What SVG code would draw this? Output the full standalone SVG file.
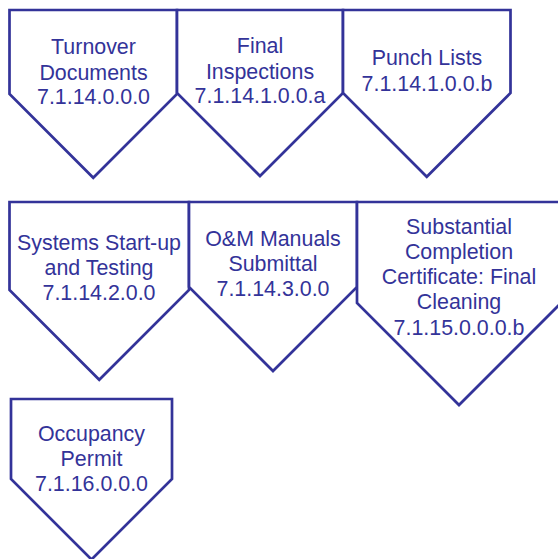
<svg xmlns="http://www.w3.org/2000/svg" width="558" height="559" viewBox="0 0 558 559">
<style>
.n{fill:#fff;stroke:#333399;stroke-width:2.7;stroke-linejoin:miter}
.t{font-family:"Liberation Sans",Arial,sans-serif;font-size:21.4px;fill:#333399;text-anchor:middle}
</style>
<rect width="558" height="559" fill="#fff"/>
<g id="connectors"></g>
<g id="n1"><polygon class="n" points="9.5,10 177,10 177,94 93.25,177.75 9.5,94"/>
<text class="t" x="93.5" y="54">Turnover</text><text class="t" x="93.5" y="79.5">Documents</text><text class="t" x="93.5" y="104">7.1.14.0.0.0</text></g>
<g id="n2"><polygon class="n" points="177,10 343,10 343,93 260,176 177,93"/>
<text class="t" x="260" y="53">Final</text><text class="t" x="260" y="78.5">Inspections</text><text class="t" x="260" y="103">7.1.14.1.0.0.a</text></g>
<g id="n3"><polygon class="n" points="343,10 510.5,10 510.5,93 426.75,176.75 343,93"/>
<text class="t" x="427" y="65">Punch Lists</text><text class="t" x="427" y="90.5">7.1.14.1.0.0.b</text></g>
<g id="n4"><polygon class="n" points="9.5,202 189,202 189,290 99.25,379.75 9.5,290"/>
<text class="t" x="99" y="250">Systems Start-up</text><text class="t" x="99" y="275">and Testing</text><text class="t" x="99" y="300">7.1.14.2.0.0</text></g>
<g id="n5"><polygon class="n" points="189,202 357,202 357,287 273,371 189,287"/>
<text class="t" x="273" y="245.5">O&amp;M Manuals</text><text class="t" x="273" y="271">Submittal</text><text class="t" x="273" y="296">7.1.14.3.0.0</text></g>
<g id="n6"><polygon class="n" points="357,202 561,202 561,303 459,405 357,303"/>
<text class="t" x="459" y="234">Substantial</text><text class="t" x="459" y="259">Completion</text><text class="t" x="459" y="284">Certificate: Final</text><text class="t" x="459" y="309">Cleaning</text><text class="t" x="459" y="334.5">7.1.15.0.0.0.b</text></g>
<g id="n7"><polygon class="n" points="11,399 172,399 172,479 91.5,559.5 11,479"/>
<text class="t" x="91.5" y="440.5">Occupancy</text><text class="t" x="91.5" y="465.5">Permit</text><text class="t" x="91.5" y="490.5">7.1.16.0.0.0</text></g>
</svg>
